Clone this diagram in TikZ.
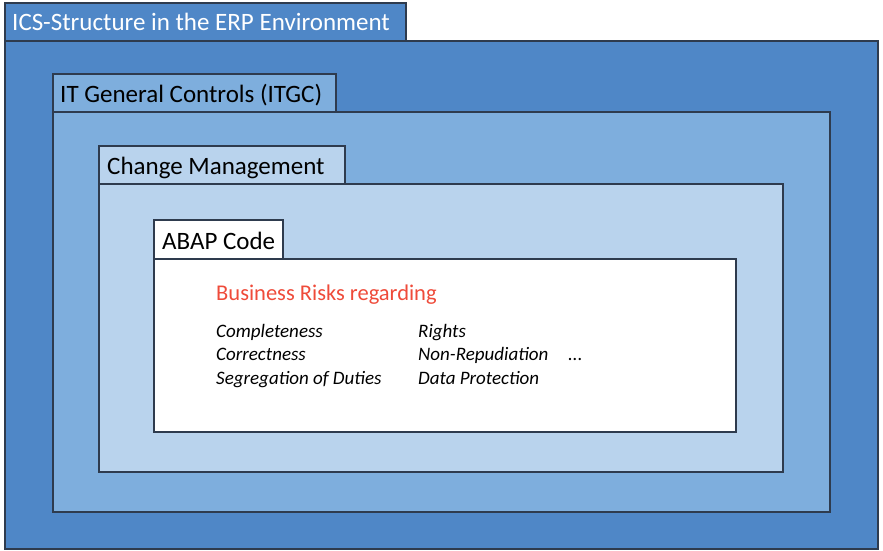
\documentclass[tikz,border=0pt]{standalone}
\usepackage{fontspec}
\setmainfont{Carlito}
\usepackage{tikz}

\definecolor{icsblue}{HTML}{4F87C7}
\definecolor{itgcblue}{HTML}{7EAEDD}
\definecolor{chgblue}{HTML}{B9D3ED}
\definecolor{edgegray}{HTML}{2E3B4E}
\definecolor{riskred}{HTML}{EF4B3A}

\tikzset{
  panel/.style={draw=edgegray, line width=1.4pt},
  title/.style={anchor=base west, inner sep=0pt, font=\fontsize{25}{30}\selectfont},
  item/.style={anchor=base west, inner sep=0pt, font=\fontsize{19}{23}\selectfont\itshape}
}

\begin{document}
\begin{tikzpicture}[x=1pt,y=-1pt]
  \useasboundingbox (0,0) rectangle (883,550);
  % ICS frame
  \filldraw[panel, fill=icsblue] (5,41) rectangle (878,549);
  \filldraw[panel, fill=icsblue] (5,3) rectangle (406,41);
  \node[title, white] (ics) at (12,30) {ICS-Structure in the ERP Environment};
  % ITGC frame
  \filldraw[panel, fill=itgcblue] (53,112) rectangle (830,512);
  \filldraw[panel, fill=itgcblue] (53,74) rectangle (336,112);
  \node[title] (itgc) at (60,102) {IT General Controls (ITGC)};
  % change management frame
  \filldraw[panel, fill=chgblue] (99,184) rectangle (783,472);
  \filldraw[panel, fill=chgblue] (99,146) rectangle (345,184);
  \node[title] (chg) at (107,174) {Change Management};
  % ABAP code frame
  \filldraw[panel, fill=white] (154,259) rectangle (736,432);
  \filldraw[panel, fill=white] (154,220) rectangle (283,259);
  \node[title] (abap) at (162,249) {ABAP Code};
  % risks
  \node[anchor=base west, inner sep=0pt, riskred, font=\fontsize{22.5}{27}\selectfont] (risks) at (216,300) {Business Risks regarding};
  \node[item] (complete) at (216,337) {Completeness};
  \node[item] (correct) at (216,360) {Correctness};
  \node[item] (sod) at (216,384) {Segregation of Duties};
  \node[item] (rights) at (418,337) {Rights};
  \node[item] (nonrep) at (418,360) {Non-Repudiation};
  \node[item] (dataprot) at (418,384) {Data Protection};
  \node[item] (more) at (568,360) {...};
\end{tikzpicture}
\end{document}
